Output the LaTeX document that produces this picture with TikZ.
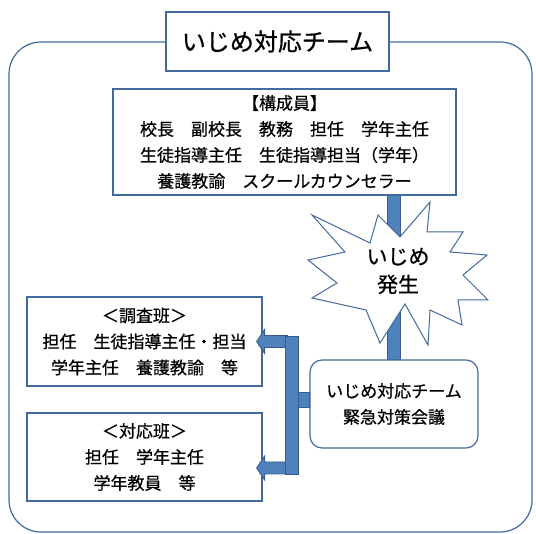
\documentclass[tikz,border=0pt]{standalone}
\usepackage{fontspec}
\setmainfont{Noto Sans CJK JP}[FakeBold=0.6]
\usetikzlibrary{calc,backgrounds}

\definecolor{linebl}{RGB}{66,106,156}
\definecolor{fillbl}{RGB}{79,129,189}
\definecolor{edgebl}{RGB}{56,93,138}

\tikzset{
  frame/.style={draw=linebl, line width=1.2pt, rounded corners=32pt},
  box/.style={draw=linebl, line width=1.2pt, fill=white, align=center, inner sep=0pt,
              font=\fontsize{17}{26}\selectfont},
  fatbar/.style={fill=fillbl, draw=edgebl, line width=0.8pt},
}

\begin{document}
\begin{tikzpicture}[x=1pt, y=-1pt]
    \useasboundingbox (0,0) rectangle (536,534);
    \draw[frame] (9,42) rectangle (532,532);
    \node(title)   at (277.5,41.5) [box, minimum width=223pt, minimum height=59pt,
                                    font=\fontsize{24}{28}\selectfont] {いじめ対応チーム};
    \node(members) at (284.5,142)  [box, minimum width=343pt, minimum height=106pt]
        {【構成員】\\校長　副校長　教務　担任　学年主任\\生徒指導主任　生徒指導担当（学年）\\養護教諭　スクールカウンセラー};
    \node(meeting) at (394,404)    [box, rounded corners=12pt, minimum width=168pt, minimum height=88pt]
        {いじめ対応チーム\\緊急対策会議};
    \begin{scope}[on background layer]
        \draw[fatbar] ($(meeting.north)+(-6.5,0)$) rectangle ($(meeting.north |- members.south)+(6.5,0)$);
    \end{scope}
    % burst
    \draw[linebl, line width=1pt, fill=white]
        (430,202) -- (427,232) -- (463,232) -- (450,252) -- (487,255) -- (463,275)
        -- (488,300) -- (458,300) -- (462,325) -- (430,310) -- (428,345) -- (405,304)
        -- (380,343) -- (366,310) -- (312,298) -- (337,283) -- (308,260) -- (345,252)
        -- (312,215) -- (370,243) -- (378,215) -- (400,237) -- cycle;
    \node(burst)   at (398,271)    [align=center, font=\fontsize{21}{28}\selectfont] {いじめ\\発生};
    \node(survey)  at (144.5,341.5) [box, minimum width=235pt, minimum height=89pt]
        {＜調査班＞\\担任　生徒指導主任・担当\\学年主任　養護教諭　等};
    \node(respond) at (144.5,457)  [box, minimum width=235pt, minimum height=88pt]
        {＜対応班＞\\担任　学年主任\\学年教員　等};
    % bracket arrows
    \path (survey.east)  ++(-6,0)  coordinate (tipA);
    \path (respond.east) ++(-6,11) coordinate (tipB);
    \draw[fatbar] (tipA) -- ++(8,-12) -- ++(0,6) -- ++(23,0) -- ++(0,12) -- ++(-23,0) -- ++(0,6) -- cycle;
    \draw[fatbar] (tipB) -- ++(8,-12) -- ++(0,6) -- ++(23,0) -- ++(0,12) -- ++(-23,0) -- ++(0,6) -- cycle;
    \draw[fatbar] (285,336) rectangle (298,474);
    \draw[fatbar] (298,392) rectangle ($(meeting.west)+(0,3)$);
\end{tikzpicture}
\end{document}
